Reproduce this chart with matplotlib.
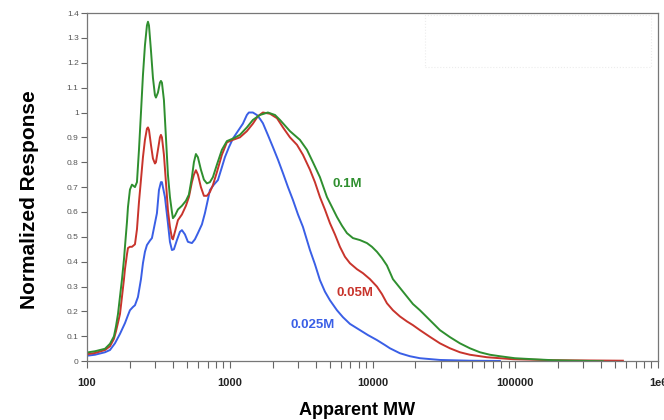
import matplotlib.pyplot as plt
from matplotlib.patches import Rectangle
from matplotlib.ticker import FixedLocator, LogLocator, NullFormatter


# Apparent MW / normalized response
mw_01 = [100, 113.8, 133.7, 144.9, 154.5, 159.6, 164.9, 170.3, 175.9, 181.6,
         184.5, 190.6, 193.7, 200, 206.6, 216.8, 223.9, 231.3, 238.9, 246.6,
         254.7, 263.0, 267.4, 271.8, 280.6, 289.7, 299.2, 304.1, 314.1, 324.3,
         329.6, 335.0, 345.9, 357.3, 369.0, 381.1, 393.6, 400.0, 413.0, 433.5,
         462.4, 493.2, 517.6, 543.3, 561.0, 579.4, 598.4, 628.1, 659.2, 691.8,
         726.1, 762.1, 812.8, 881.0, 955.0, 1052, 1178, 1318, 1452, 1626,
         1849, 2075, 2249, 2641, 3102, 3475, 3826, 4283, 4797, 5200,
         5635, 6109, 6622, 7295, 8166, 9141, 9908, 10740, 11640, 12620,
         13900, 15560, 17420, 19190, 21480, 25240, 29650, 34830, 40930, 48080,
         56490, 66370, 77980, 99310, 132800, 183200, 252900, 410300]
resp_01 = [0.035, 0.04, 0.05, 0.07, 0.10, 0.14, 0.19, 0.26, 0.33, 0.41,
           0.46, 0.56, 0.62, 0.69, 0.71, 0.70, 0.72, 0.85, 1.0, 1.15,
           1.27, 1.35, 1.365, 1.35, 1.25, 1.14, 1.07, 1.06, 1.08, 1.12,
           1.127, 1.12, 1.05, 0.9, 0.75, 0.66, 0.60, 0.575, 0.585, 0.61,
           0.625, 0.645, 0.67, 0.74, 0.80, 0.833, 0.82, 0.77, 0.73, 0.715,
           0.72, 0.74, 0.79, 0.85, 0.885, 0.895, 0.91, 0.94, 0.97, 0.99,
           1.0, 0.99, 0.97, 0.925, 0.89, 0.85, 0.80, 0.74, 0.66, 0.62,
           0.58, 0.545, 0.515, 0.495, 0.487, 0.475, 0.46, 0.44, 0.415, 0.385,
           0.33, 0.295, 0.26, 0.23, 0.205, 0.165, 0.125, 0.097, 0.072, 0.052,
           0.036, 0.026, 0.02, 0.012, 0.008, 0.004, 0.002, 0.0]

mw_005 = [100, 113.8, 133.7, 144.9, 154.5, 159.6, 164.9, 170.3, 175.9, 181.6,
          184.5, 190.6, 193.7, 200, 206.6, 216.8, 223.9, 231.3, 238.9, 246.6,
          254.7, 263.0, 267.4, 271.8, 280.6, 289.7, 299.2, 304.1, 314.1, 324.3,
          329.6, 335.0, 345.9, 357.3, 369.0, 381.1, 393.6, 400.0, 413.0, 433.5,
          462.4, 493.2, 517.6, 543.3, 561.0, 579.4, 598.4, 628.1, 659.2, 691.8,
          726.1, 762.1, 812.8, 881.0, 955.0, 1052, 1178, 1318, 1452, 1574,
          1707, 1914, 2143, 2360, 2641, 2958, 3256, 3646, 3951, 4283,
          4641, 5034, 5454, 5912, 6412, 6950, 7780, 8570, 9594, 10740,
          11640, 12620, 13900, 15560, 17420, 19190, 21480, 25240, 29650, 34830,
          40930, 48080, 63240, 96160, 183200, 567500]
resp_005 = [0.028, 0.033, 0.045, 0.06, 0.09, 0.12, 0.155, 0.19, 0.26, 0.33,
            0.37, 0.43, 0.455, 0.46, 0.46, 0.47, 0.53, 0.64, 0.73, 0.82,
            0.89, 0.935, 0.94, 0.93, 0.87, 0.815, 0.795, 0.80, 0.85, 0.90,
            0.91, 0.90, 0.83, 0.72, 0.607, 0.54, 0.495, 0.49, 0.52, 0.567,
            0.59, 0.625, 0.66, 0.72, 0.75, 0.768, 0.75, 0.70, 0.665, 0.665,
            0.68, 0.708, 0.76, 0.83, 0.88, 0.89, 0.90, 0.925, 0.955, 0.985,
            1.0, 0.995, 0.977, 0.94, 0.90, 0.87, 0.83, 0.77, 0.72, 0.66,
            0.61, 0.555, 0.51, 0.46, 0.42, 0.394, 0.37, 0.354, 0.33, 0.30,
            0.27, 0.233, 0.205, 0.18, 0.16, 0.145, 0.125, 0.098, 0.072, 0.052,
            0.036, 0.026, 0.016, 0.008, 0.004, 0.002]

mw_0025 = [100, 113.8, 133.7, 144.9, 157.0, 170.3, 184.5, 193.7, 200, 209.9,
           216.8, 227.5, 238.9, 246.6, 254.7, 263.0, 276.1, 285.1, 299.2, 309.0,
           319.2, 329.6, 335.0, 340.4, 351.6, 369.0, 381.1, 393.6, 406.4, 426.6,
           447.7, 462.4, 485.3, 509.3, 543.3, 570.2, 598.4, 638.3, 669.9, 703.1,
           726.1, 774.5, 826.1, 881.0, 924.7, 986.3, 1052, 1140, 1236, 1318,
           1361, 1452, 1549, 1626, 1707, 1849, 2009, 2178, 2360, 2558,
           2772, 3006, 3256, 3646, 3951, 4283, 4641, 5034, 5635, 6207,
           6950, 8166, 9290, 10740, 12220, 13240, 15560, 18280, 21480, 29650,
           48080, 77980]
resp_0025 = [0.022, 0.026, 0.036, 0.045, 0.072, 0.11, 0.153, 0.185, 0.205, 0.218,
             0.225, 0.258, 0.33, 0.394, 0.44, 0.467, 0.485, 0.495, 0.555, 0.595,
             0.688, 0.72, 0.72, 0.70, 0.66, 0.555, 0.48, 0.447, 0.45, 0.487,
             0.52, 0.527, 0.51, 0.48, 0.475, 0.49, 0.515, 0.55, 0.595, 0.65,
             0.688, 0.71, 0.728, 0.78, 0.82, 0.86, 0.895, 0.925, 0.955, 0.99,
             1.0, 1.0, 0.99, 0.975, 0.957, 0.91, 0.86, 0.81, 0.756, 0.70,
             0.648, 0.59, 0.54, 0.447, 0.39, 0.326, 0.28, 0.245, 0.205, 0.177,
             0.15, 0.125, 0.105, 0.085, 0.065, 0.052, 0.032, 0.02, 0.012, 0.005,
             0.002, 0.001]

series_labels = ['0.1M', '0.05M', '0.025M']
label_pos = [(6620, 0.712), (7530, 0.274), (3830, 0.145)]
colors = ['#2f8f2f', '#c8342c', '#3a5fe6']

y_ticks = [0, 0.1, 0.2, 0.3, 0.4, 0.5, 0.6, 0.7, 0.8, 0.9, 1, 1.1, 1.2, 1.3, 1.4]
x_ticks = [100, 1000, 10000, 100000, 1000000]
x_tick_labels = ['100', '1000', '10000', '100000', '1e6']

plt.rcParams['font.family'] = ['Liberation Sans', 'DejaVu Sans']

fig = plt.figure(figsize=(6.64, 4.2), dpi=100)
ax = fig.add_axes([0.131, 0.140, 0.860, 0.829])

ax.plot(mw_0025, resp_0025, color=colors[2], lw=1.4)
ax.plot(mw_005, resp_005, color=colors[1], lw=1.4)
ax.plot(mw_01, resp_01, color=colors[0], lw=1.4)

for text, (tx, ty), c in zip(series_labels, label_pos, colors):
  ax.text(tx, ty, text, color=c, fontsize=9.5, fontweight='bold',
          ha='center', va='center')

# faint legend frame left over in the original export
ax.add_patch(Rectangle((0.592, 0.845), 0.395, 0.15, transform=ax.transAxes,
                       fill=False, ec='#ececec', lw=0.8, ls=':'))

ax.set_xscale('log')
ax.set_xlim(100, 1e6)
ax.set_ylim(0, 1.4)

ax.xaxis.set_major_locator(FixedLocator(x_ticks))
ax.set_xticklabels(x_tick_labels, fontsize=8, fontweight='bold', color='#222222')
ax.xaxis.set_minor_locator(LogLocator(base=10, subs=range(2, 10)))
ax.xaxis.set_minor_formatter(NullFormatter())
ax.set_yticks(y_ticks)
ax.set_yticklabels([f'{v:g}' for v in y_ticks], fontsize=6, color='#555555')

ax.tick_params(axis='x', which='both', direction='out', length=5, width=0.8,
               color='#666666', pad=7)
ax.tick_params(axis='y', direction='out', length=4, width=0.8,
               color='#666666', pad=2)

for s in ax.spines.values():
  s.set_color('#777777')
  s.set_linewidth(0.9)

ax.set_xlabel('Apparent MW', fontsize=13, fontweight='bold', labelpad=10)
ax.set_ylabel('Normalized Response', fontsize=15, fontweight='bold', labelpad=20)
ax.xaxis.label.set_x(0.473)
ax.yaxis.label.set_y(0.463)

fig.savefig('out.png', dpi=100)
